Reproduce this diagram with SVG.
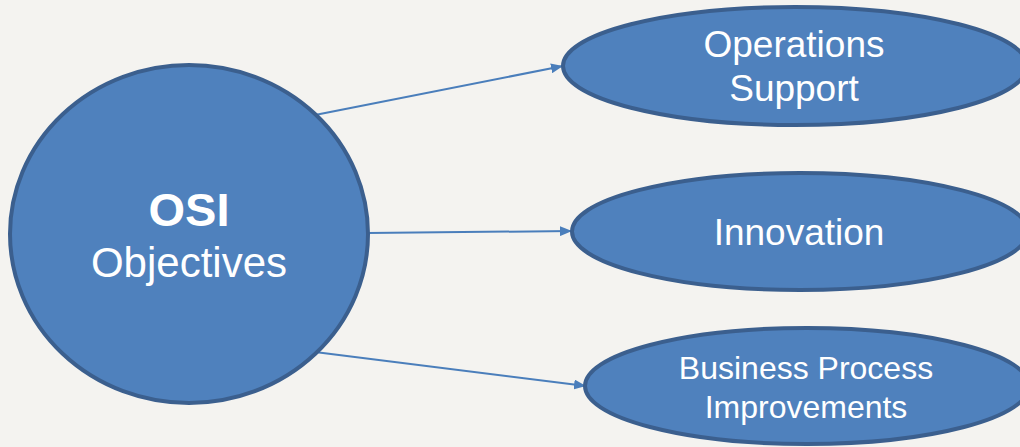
<svg xmlns="http://www.w3.org/2000/svg" width="1020" height="447" viewBox="0 0 1020 447">
<defs>
<style>
.node{fill:#4f81bd;stroke:#3b5f8e;stroke-width:4}
.lbl{fill:#ffffff;font-family:"Liberation Sans",Arial,sans-serif;text-anchor:middle}
.conn{stroke:#4a7ebb;stroke-width:2;fill:none;marker-end:url(#arr)}
</style>
<marker id="arr" viewBox="0 0 10 10" refX="10" refY="5" markerWidth="6" markerHeight="5" orient="auto" markerUnits="strokeWidth" preserveAspectRatio="none">
<path d="M0,0 L10,5 L0,10 Z" fill="#4a7ebb"/>
</marker>
</defs>
<rect width="1020" height="447" fill="#f4f3f0"/>
<g id="connectors">
<line class="conn" x1="315" y1="115" x2="563" y2="66"/>
<line class="conn" x1="368" y1="233" x2="572" y2="231"/>
<line class="conn" x1="315" y1="352" x2="586" y2="386"/>
</g>
<g id="osi">
<ellipse class="node" cx="189" cy="234" rx="179" ry="169"/>
<text class="lbl" x="189" y="226" font-size="47" font-weight="bold">OSI</text>
<text class="lbl" x="189" y="277" font-size="42">Objectives</text>
</g>
<g id="ops">
<ellipse class="node" cx="795" cy="66" rx="232" ry="59"/>
<text class="lbl" x="794" y="57" font-size="37">Operations</text>
<text class="lbl" x="794" y="101" font-size="37">Support</text>
</g>
<g id="innovation">
<ellipse class="node" cx="800" cy="231.5" rx="228" ry="58.5"/>
<text class="lbl" x="799" y="245" font-size="37">Innovation</text>
</g>
<g id="bpi">
<ellipse class="node" cx="807" cy="386" rx="222" ry="58"/>
<text class="lbl" x="806" y="379" font-size="32">Business Process</text>
<text class="lbl" x="806" y="418" font-size="32">Improvements</text>
</g>
</svg>
